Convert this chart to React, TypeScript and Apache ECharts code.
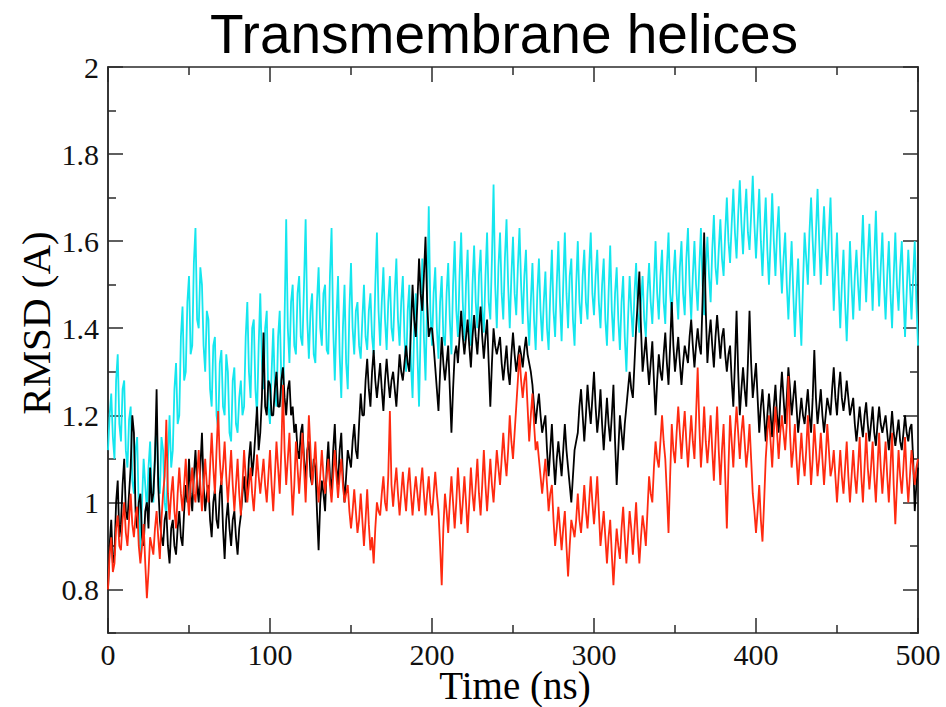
import React, { useEffect, useRef } from "react";
import * as echarts from "echarts";

// Sampling grid: one value every 1 ns from 0 to 500 ns
const TIME_STEP_NS = 1;

const cyanTM = [
  1.12, 1.20, 1.25, 1.15, 1.10, 1.28, 1.34, 1.18, 1.14, 1.26,
  1.28, 1.12, 1.08, 1.19, 1.22, 1.05, 1.02, 1.12, 1.15, 0.98,
  0.88, 1.00, 1.10, 1.04, 0.98, 1.08, 1.14, 1.02, 1.00, 1.12,
  1.18, 1.06, 1.02, 1.15, 1.12, 1.00, 0.97, 1.10, 1.20, 1.08,
  1.12, 1.26, 1.32, 1.18, 1.20, 1.38, 1.45, 1.28, 1.30, 1.46,
  1.52, 1.34, 1.36, 1.55, 1.63, 1.42, 1.40, 1.54, 1.50, 1.36,
  1.30, 1.44, 1.42, 1.26, 1.22, 1.36, 1.38, 1.20, 1.17, 1.32,
  1.35, 1.22, 1.20, 1.34, 1.30, 1.16, 1.14, 1.28, 1.31, 1.18,
  1.16, 1.24, 1.28, 1.20, 1.22, 1.38, 1.46, 1.30, 1.24, 1.40,
  1.42, 1.26, 1.20, 1.36, 1.48, 1.32, 1.26, 1.40, 1.44, 1.22,
  1.18, 1.30, 1.40, 1.26, 1.22, 1.38, 1.44, 1.28, 1.20, 1.42,
  1.65, 1.40, 1.32, 1.46, 1.50, 1.36, 1.34, 1.48, 1.52, 1.38,
  1.36, 1.50, 1.65, 1.42, 1.33, 1.44, 1.48, 1.34, 1.32, 1.46,
  1.54, 1.40, 1.36, 1.48, 1.50, 1.35, 1.34, 1.52, 1.63, 1.40,
  1.28, 1.42, 1.52, 1.34, 1.24, 1.40, 1.50, 1.32, 1.26, 1.44,
  1.55, 1.40, 1.34, 1.44, 1.46, 1.36, 1.33, 1.42, 1.50, 1.38,
  1.35, 1.44, 1.48, 1.38, 1.34, 1.50, 1.62, 1.44, 1.36, 1.46,
  1.54, 1.42, 1.35, 1.46, 1.52, 1.40, 1.37, 1.48, 1.56, 1.42,
  1.36, 1.46, 1.52, 1.38, 1.30, 1.44, 1.50, 1.32, 1.24, 1.40,
  1.48, 1.34, 1.22, 1.40, 1.56, 1.38, 1.28, 1.46, 1.68, 1.44,
  1.36, 1.48, 1.54, 1.40, 1.33, 1.46, 1.52, 1.38, 1.36, 1.48,
  1.55, 1.42, 1.34, 1.50, 1.60, 1.44, 1.38, 1.52, 1.62, 1.46,
  1.37, 1.50, 1.58, 1.42, 1.36, 1.50, 1.59, 1.46, 1.40, 1.52,
  1.58, 1.44, 1.39, 1.52, 1.62, 1.46, 1.42, 1.56, 1.73, 1.50,
  1.40, 1.54, 1.62, 1.48, 1.42, 1.56, 1.65, 1.50, 1.40, 1.52,
  1.61, 1.48, 1.43, 1.54, 1.63, 1.50, 1.41, 1.52, 1.58, 1.44,
  1.36, 1.46, 1.55, 1.42, 1.35, 1.48, 1.56, 1.44, 1.37, 1.46,
  1.53, 1.40, 1.35, 1.48, 1.58, 1.44, 1.38, 1.50, 1.60, 1.46,
  1.37, 1.50, 1.62, 1.48, 1.40, 1.52, 1.56, 1.42, 1.36, 1.50,
  1.60, 1.46, 1.41, 1.52, 1.58, 1.46, 1.42, 1.54, 1.62, 1.48,
  1.43, 1.52, 1.58, 1.46, 1.40, 1.50, 1.56, 1.42, 1.36, 1.48,
  1.59, 1.44, 1.37, 1.48, 1.54, 1.42, 1.35, 1.46, 1.52, 1.38,
  1.30, 1.42, 1.52, 1.44, 1.38, 1.48, 1.55, 1.44, 1.39, 1.46,
  1.52, 1.42, 1.38, 1.48, 1.55, 1.46, 1.41, 1.50, 1.60, 1.48,
  1.42, 1.52, 1.58, 1.46, 1.41, 1.54, 1.62, 1.48, 1.43, 1.52,
  1.58, 1.48, 1.42, 1.54, 1.60, 1.48, 1.43, 1.56, 1.63, 1.50,
  1.42, 1.52, 1.60, 1.50, 1.44, 1.54, 1.63, 1.50, 1.43, 1.54,
  1.61, 1.52, 1.46, 1.58, 1.66, 1.54, 1.50, 1.58, 1.65, 1.56,
  1.52, 1.62, 1.70, 1.60, 1.55, 1.64, 1.72, 1.62, 1.56, 1.66,
  1.74, 1.64, 1.57, 1.66, 1.72, 1.62, 1.58, 1.66, 1.75, 1.64,
  1.56, 1.64, 1.72, 1.60, 1.52, 1.62, 1.70, 1.58, 1.50, 1.60,
  1.71, 1.60, 1.52, 1.62, 1.68, 1.56, 1.48, 1.56, 1.62, 1.50,
  1.42, 1.52, 1.60, 1.48, 1.38, 1.48, 1.56, 1.44, 1.36, 1.50,
  1.62, 1.56, 1.50, 1.62, 1.70, 1.60, 1.52, 1.62, 1.72, 1.60,
  1.50, 1.60, 1.68, 1.58, 1.52, 1.62, 1.70, 1.56, 1.44, 1.54,
  1.62, 1.50, 1.40, 1.50, 1.58, 1.46, 1.37, 1.48, 1.60, 1.50,
  1.42, 1.52, 1.58, 1.50, 1.44, 1.56, 1.66, 1.54, 1.46, 1.56,
  1.64, 1.54, 1.44, 1.56, 1.67, 1.54, 1.45, 1.54, 1.62, 1.50,
  1.42, 1.52, 1.60, 1.48, 1.40, 1.52, 1.62, 1.50, 1.44, 1.54,
  1.60, 1.48, 1.38, 1.48, 1.58, 1.50, 1.42, 1.52, 1.60, 1.46,
  1.36,
];

const blackTM = [
  0.80, 0.90, 0.96, 0.86, 0.88, 1.00, 1.05, 0.92, 0.95, 1.04,
  1.10, 0.98, 0.96, 1.02, 1.08, 1.20, 1.16, 0.98, 0.94, 1.00,
  1.02, 0.92, 0.90, 0.98, 1.00, 0.94, 1.08, 1.00, 1.02, 1.10,
  1.26, 1.04, 0.96, 0.92, 0.90, 0.96, 0.98, 0.90, 0.86, 0.94,
  0.96, 0.90, 0.88, 0.94, 0.98, 0.92, 0.90, 0.98, 1.04, 1.00,
  1.10, 1.02, 0.98, 1.06, 1.12, 1.04, 1.00, 1.08, 1.16, 1.04,
  0.98, 1.02, 1.04, 0.96, 0.92, 1.00, 1.03, 0.96, 0.94, 1.02,
  1.05, 0.94, 0.87, 0.96, 1.00, 0.94, 0.90, 0.96, 0.98, 0.92,
  0.88, 0.94, 0.97, 1.02, 1.06, 1.00, 1.02, 1.10, 1.14, 1.06,
  1.10, 1.16, 1.22, 1.12, 1.16, 1.24, 1.39, 1.22, 1.20, 1.28,
  1.27, 1.20, 1.20, 1.26, 1.30, 1.22, 1.22, 1.28, 1.31, 1.24,
  1.20, 1.26, 1.28, 1.20, 1.22, 1.16, 1.18, 1.12, 1.10, 1.16,
  1.18, 1.10, 1.05, 1.12, 1.14, 1.06, 1.04, 1.10, 1.08, 0.98,
  0.89, 1.00, 1.05, 1.02, 0.98, 1.08, 1.14, 1.06, 1.02, 1.12,
  1.18, 1.08, 1.04, 1.12, 1.16, 1.06, 1.00, 1.06, 1.12, 1.10,
  1.08, 1.14, 1.18, 1.12, 1.10, 1.18, 1.25, 1.20, 1.20, 1.28,
  1.33, 1.26, 1.22, 1.30, 1.35, 1.28, 1.24, 1.28, 1.32, 1.26,
  1.21, 1.28, 1.33, 1.28, 1.24, 1.28, 1.30, 1.26, 1.22, 1.28,
  1.34, 1.30, 1.28, 1.32, 1.36, 1.32, 1.30, 1.40, 1.50, 1.42,
  1.38, 1.46, 1.56, 1.48, 1.44, 1.52, 1.61, 1.46, 1.38, 1.40,
  1.40, 1.36, 1.31, 1.26, 1.21, 1.30, 1.38, 1.32, 1.28, 1.32,
  1.36, 1.26, 1.16, 1.26, 1.34, 1.36, 1.32, 1.38, 1.44, 1.38,
  1.34, 1.38, 1.42, 1.36, 1.31, 1.38, 1.43, 1.38, 1.34, 1.40,
  1.45, 1.38, 1.33, 1.38, 1.42, 1.32, 1.22, 1.32, 1.40, 1.36,
  1.34, 1.36, 1.38, 1.32, 1.28, 1.32, 1.36, 1.30, 1.27, 1.34,
  1.39, 1.34, 1.30, 1.33, 1.36, 1.34, 1.31, 1.35, 1.38, 1.34,
  1.32, 1.30, 1.27, 1.22, 1.18, 1.22, 1.25, 1.20, 1.16, 1.18,
  1.20, 1.12, 1.06, 1.12, 1.18, 1.10, 1.04, 1.10, 1.14, 1.10,
  1.06, 1.12, 1.18, 1.12, 1.08, 1.04, 1.00, 1.06, 1.12, 1.14,
  1.16, 1.22, 1.26, 1.20, 1.14, 1.20, 1.27, 1.22, 1.18, 1.24,
  1.30, 1.22, 1.16, 1.20, 1.26, 1.18, 1.12, 1.18, 1.24, 1.18,
  1.14, 1.20, 1.27, 1.14, 1.04, 1.12, 1.20, 1.16, 1.12, 1.18,
  1.22, 1.26, 1.30, 1.26, 1.24, 1.32, 1.40, 1.46, 1.53, 1.40,
  1.30, 1.34, 1.38, 1.32, 1.27, 1.32, 1.37, 1.28, 1.20, 1.28,
  1.34, 1.30, 1.28, 1.34, 1.39, 1.32, 1.27, 1.36, 1.46, 1.36,
  1.30, 1.34, 1.38, 1.32, 1.27, 1.32, 1.36, 1.34, 1.32, 1.38,
  1.42, 1.36, 1.31, 1.36, 1.40, 1.36, 1.34, 1.46, 1.62, 1.44,
  1.32, 1.38, 1.42, 1.36, 1.31, 1.38, 1.43, 1.38, 1.33, 1.38,
  1.40, 1.34, 1.30, 1.34, 1.36, 1.28, 1.22, 1.32, 1.44, 1.30,
  1.20, 1.26, 1.31, 1.26, 1.22, 1.32, 1.44, 1.32, 1.24, 1.28,
  1.32, 1.24, 1.16, 1.22, 1.26, 1.20, 1.14, 1.20, 1.25, 1.20,
  1.15, 1.22, 1.27, 1.20, 1.16, 1.24, 1.30, 1.24, 1.18, 1.24,
  1.31, 1.26, 1.20, 1.24, 1.28, 1.22, 1.16, 1.20, 1.24, 1.20,
  1.18, 1.22, 1.26, 1.20, 1.16, 1.24, 1.35, 1.24, 1.18, 1.22,
  1.26, 1.20, 1.16, 1.20, 1.24, 1.22, 1.20, 1.26, 1.31, 1.24,
  1.20, 1.26, 1.30, 1.24, 1.21, 1.24, 1.28, 1.24, 1.20, 1.22,
  1.24, 1.18, 1.14, 1.18, 1.22, 1.18, 1.15, 1.20, 1.23, 1.18,
  1.14, 1.18, 1.22, 1.16, 1.13, 1.18, 1.22, 1.18, 1.16, 1.18,
  1.20, 1.16, 1.12, 1.16, 1.21, 1.16, 1.13, 1.16, 1.19, 1.14,
  1.12, 1.16, 1.20, 1.16, 1.14, 1.17, 1.18, 1.10, 0.98, 1.04,
  1.08,
];

const redTM = [
  0.80, 0.88, 0.92, 0.84, 0.86, 0.94, 0.97, 0.90, 0.89, 0.96,
  1.00, 0.93, 0.90, 0.96, 1.02, 0.95, 0.92, 0.97, 0.99, 0.90,
  0.86, 0.90, 0.95, 0.86, 0.78, 0.84, 0.92, 0.90, 0.88, 0.94,
  0.98, 0.92, 0.87, 0.96, 1.02, 1.06, 1.19, 1.02, 0.96, 1.02,
  1.06, 0.98, 0.94, 1.02, 1.08, 1.02, 0.98, 1.04, 1.10, 1.02,
  0.97, 1.04, 1.08, 1.02, 1.00, 1.06, 1.12, 1.04, 0.98, 1.04,
  1.10, 1.04, 1.00, 1.08, 1.16, 1.08, 1.02, 1.12, 1.21, 1.10,
  1.04, 1.08, 1.14, 1.06, 1.00, 1.06, 1.12, 1.04, 0.98, 1.04,
  1.10, 1.02, 0.97, 1.04, 1.12, 1.06, 1.00, 1.04, 1.08, 1.02,
  0.98, 1.04, 1.11, 1.06, 1.02, 1.06, 1.10, 1.04, 1.00, 1.06,
  1.12, 1.04, 0.98, 1.06, 1.14, 1.08, 1.02, 1.12, 1.27, 1.12,
  1.04, 1.10, 1.16, 1.06, 0.97, 1.04, 1.14, 1.08, 1.02, 1.08,
  1.16, 1.08, 1.00, 1.10, 1.20, 1.12, 1.04, 1.08, 1.14, 1.06,
  1.00, 1.06, 1.12, 1.06, 1.02, 1.06, 1.10, 1.04, 1.00, 1.06,
  1.12, 1.06, 1.01, 1.06, 1.10, 1.04, 1.00, 1.02, 1.04, 0.98,
  0.94, 0.98, 1.03, 0.98, 0.93, 0.96, 1.02, 0.96, 0.90, 0.96,
  1.03, 0.95, 0.89, 0.92, 0.86, 0.94, 1.00, 0.98, 0.97, 1.02,
  1.06, 1.00, 0.98, 1.06, 1.21, 1.04, 0.99, 1.04, 1.08, 1.02,
  0.97, 1.02, 1.07, 1.02, 0.98, 1.04, 1.08, 1.02, 0.97, 1.02,
  1.06, 1.02, 0.98, 1.04, 1.08, 1.02, 0.97, 1.02, 1.06, 1.00,
  0.97, 1.02, 1.07, 1.02, 0.98, 0.90, 0.81, 0.94, 1.02, 0.98,
  0.93, 1.00, 1.06, 1.00, 0.94, 1.00, 1.08, 1.02, 0.95, 1.00,
  1.06, 1.00, 0.93, 1.00, 1.08, 1.02, 0.98, 1.04, 1.10, 1.02,
  0.97, 1.04, 1.12, 1.04, 0.98, 1.04, 1.10, 1.04, 1.00, 1.06,
  1.12, 1.08, 1.04, 1.10, 1.16, 1.10, 1.06, 1.12, 1.20, 1.14,
  1.10, 1.16, 1.22, 1.28, 1.34, 1.28, 1.24, 1.28, 1.30, 1.22,
  1.14, 1.20, 1.25, 1.18, 1.12, 1.14, 1.10, 1.06, 1.02, 1.06,
  1.10, 1.04, 0.98, 1.02, 1.04, 0.96, 0.90, 0.94, 0.99, 0.94,
  0.89, 0.94, 0.98, 0.90, 0.83, 0.90, 0.96, 0.94, 0.92, 0.96,
  1.02, 0.96, 0.93, 0.98, 1.04, 0.98, 0.94, 1.00, 1.06, 1.00,
  0.95, 1.00, 1.06, 0.98, 0.90, 0.94, 0.98, 0.92, 0.86, 0.92,
  0.96, 0.88, 0.81, 0.88, 0.94, 0.90, 0.87, 0.94, 0.99, 0.92,
  0.86, 0.92, 0.98, 0.94, 0.88, 0.94, 1.00, 0.92, 0.86, 0.92,
  0.97, 0.94, 0.90, 0.98, 1.06, 1.02, 1.00, 1.08, 1.14, 1.10,
  1.08, 1.14, 1.20, 1.14, 1.10, 1.02, 0.93, 1.06, 1.18, 1.12,
  1.09, 1.16, 1.22, 1.16, 1.10, 1.16, 1.21, 1.14, 1.08, 1.14,
  1.20, 1.14, 1.10, 1.20, 1.31, 1.18, 1.08, 1.14, 1.22, 1.14,
  1.09, 1.14, 1.20, 1.12, 1.05, 1.14, 1.22, 1.12, 1.04, 1.12,
  1.18, 1.06, 0.94, 1.08, 1.20, 1.14, 1.08, 1.16, 1.22, 1.16,
  1.10, 1.16, 1.20, 1.14, 1.08, 1.12, 1.18, 1.10, 1.02, 0.98,
  0.93, 0.98, 1.04, 0.96, 0.91, 1.00, 1.10, 1.16, 1.20, 1.14,
  1.08, 1.16, 1.22, 1.16, 1.10, 1.16, 1.20, 1.16, 1.12, 1.18,
  1.29, 1.16, 1.08, 1.12, 1.18, 1.10, 1.04, 1.10, 1.16, 1.10,
  1.06, 1.12, 1.20, 1.12, 1.04, 1.10, 1.18, 1.12, 1.06, 1.10,
  1.16, 1.10, 1.04, 1.10, 1.18, 1.12, 1.06, 1.08, 1.12, 1.06,
  1.00, 1.06, 1.12, 1.06, 1.02, 1.08, 1.14, 1.06, 1.00, 1.06,
  1.12, 1.06, 1.02, 1.08, 1.15, 1.06, 1.00, 1.08, 1.16, 1.08,
  1.03, 1.08, 1.14, 1.06, 1.00, 1.08, 1.16, 1.08, 1.02, 1.08,
  1.14, 1.06, 1.00, 1.08, 1.16, 1.04, 0.95, 1.04, 1.12, 1.06,
  1.02, 1.08, 1.15, 1.06, 1.00, 1.06, 1.12, 1.08, 1.04, 1.08,
  1.10,
];

const yMajorTicks = [0.8, 1.0, 1.2, 1.4, 1.6, 1.8, 2.0];
const yMinorTicks = [0.7, 0.9, 1.1, 1.3, 1.5, 1.7, 1.9];

const TITLE = "Transmembrane helices";
const X_NAME = "Time (ns)";
const Y_NAME = "RMSD (A)";

const toPairs = (vals: number[]) => vals.map((v, i) => [i * TIME_STEP_NS, v]);

const AXIS_COLOR = "#2a2a2a";
const SERIF = "'Liberation Serif', 'DejaVu Serif', serif";

export default function App() {
  const ref = useRef<HTMLDivElement>(null);

  useEffect(() => {
    if (!ref.current) return;
    const chart = echarts.init(ref.current, undefined, { renderer: "svg" });

    const axisLine = { show: true, lineStyle: { color: AXIS_COLOR, width: 1.5 } };

    const xBase = (position: "bottom" | "top", labels: boolean) => ({
      type: "value",
      position,
      min: 0,
      max: 500,
      interval: 100,
      axisLine,
      axisTick: { show: true, inside: true, length: 15, lineStyle: { color: AXIS_COLOR, width: 1.5 } },
      minorTick: { show: true, splitNumber: 2, length: 8, lineStyle: { color: AXIS_COLOR, width: 1.5 } },
      splitLine: { show: false },
      minorSplitLine: { show: false },
      axisLabel: {
        show: labels,
        margin: 6,
        fontFamily: SERIF,
        fontSize: 30,
        color: "#111",
      },
    });

    const yBase = (position: "left" | "right", ticks: number[], len: number, labels: boolean) => ({
      type: "value",
      position,
      min: 0.7,
      max: 2.0,
      axisLine,
      axisTick: {
        show: true,
        inside: true,
        length: len,
        customValues: ticks,
        lineStyle: { color: AXIS_COLOR, width: 1.5 },
      },
      splitLine: { show: false },
      axisLabel: {
        show: labels,
        customValues: ticks,
        margin: 9,
        fontFamily: SERIF,
        fontSize: 30,
        color: "#111",
      },
    });

    const lineSeries = (name: string, vals: number[], color: string, z: number) => ({
      name,
      type: "line",
      data: toPairs(vals),
      showSymbol: false,
      symbol: "none",
      lineStyle: { color, width: 1.8 },
      z,
    });

    chart.setOption({
      animation: false,
      backgroundColor: "#ffffff",
      title: {
        text: TITLE,
        left: 499,
        top: 1,
        textAlign: "center",
        textStyle: {
          fontFamily: "'Liberation Sans', Arial, sans-serif",
          fontSize: 55,
          fontWeight: "normal",
          color: "#000",
        },
      },
      grid: { left: 108, right: 28, top: 67, bottom: 74 },
      xAxis: [xBase("bottom", true), xBase("top", false)],
      yAxis: [
        yBase("left", yMajorTicks, 15, true),
        yBase("left", yMinorTicks, 8, false),
        yBase("right", yMajorTicks, 15, false),
        yBase("right", yMinorTicks, 8, false),
      ],
      graphic: [
        {
          type: "text",
          x: 515,
          y: 685,
          style: {
            text: X_NAME,
            font: `39px ${SERIF}`,
            fill: "#000",
            textAlign: "center",
            textVerticalAlign: "middle",
          },
        },
        {
          type: "text",
          x: 36,
          y: 323,
          rotation: Math.PI / 2,
          style: {
            text: Y_NAME,
            font: `41px ${SERIF}`,
            fill: "#000",
            textAlign: "center",
            textVerticalAlign: "middle",
          },
        },
      ],
      series: [
        lineSeries("cyan", cyanTM, "#14e6ee", 2),
        lineSeries("black", blackTM, "#000000", 3),
        lineSeries("red", redTM, "#ff2a10", 4),
      ],
    });

    return () => chart.dispose();
  }, []);

  return (
    <div
      ref={ref}
      style={{ position: "fixed", left: 0, top: 0, width: 946, height: 707 }}
    />
  );
}
